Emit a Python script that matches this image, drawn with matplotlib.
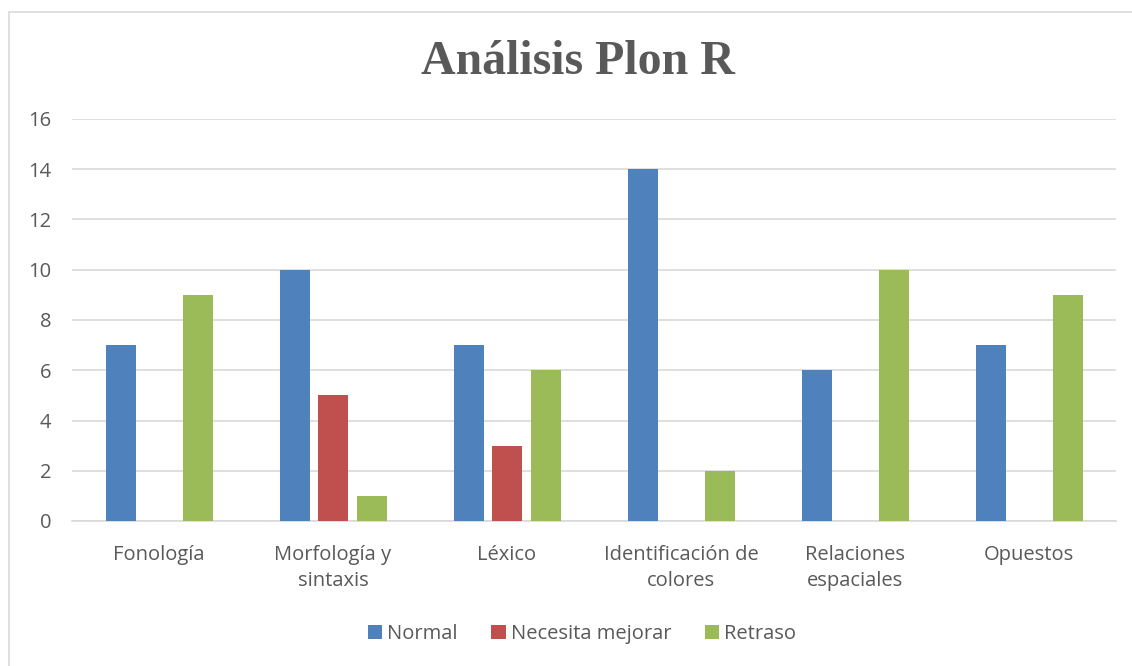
import matplotlib.pyplot as plt
import numpy as np
from matplotlib.patches import Rectangle

# --- DATA ---
categories = ['Fonología', 'Morfología y\nsintaxis', 'Léxico',
              'Identificación de\ncolores', 'Relaciones\nespaciales', 'Opuestos']
normal = [7, 10, 7, 14, 6, 7]
necesita = [0, 5, 3, 0, 0, 0]
retraso = [9, 1, 6, 2, 10, 9]
series_names = ['Normal', 'Necesita mejorar', 'Retraso']
colors = ['#4F81BD', '#C0504D', '#9BBB59']

TEXT = '#595959'
GRID = '#D9D9D9'

plt.rcParams['font.family'] = ['Open Sans', 'DejaVu Sans']

fig = plt.figure(figsize=(11.32, 6.66), dpi=100)
ax = fig.add_axes([72 / 1132, 1 - 521 / 666, 1044 / 1132, 402 / 666])

x = np.arange(len(categories))
width = 30 / 174
step = 38.5 / 174
for i, (vals, name, col) in enumerate(zip([normal, necesita, retraso], series_names, colors)):
    ax.bar(x + (i - 1) * step, vals, width, color=col, label=name, zorder=3)

ax.set_xlim(-0.5, len(categories) - 0.5)
ax.set_ylim(0, 16)
ax.set_yticks(range(0, 17, 2))
ax.set_xticks(x)
ax.set_xticklabels(categories, fontsize=14.5, color=TEXT, linespacing=1.4)
ax.tick_params(axis='y', labelsize=14.5, labelcolor=TEXT, length=0, pad=15)
ax.tick_params(axis='x', length=0, pad=17)
ax.grid(axis='y', color=GRID, linewidth=1.2, zorder=0)
for s in ['top', 'right', 'left']:
    ax.spines[s].set_visible(False)
ax.spines['bottom'].set_color(GRID)
ax.spines['bottom'].set_linewidth(1.2)

fig.text(578 / 1132, 1 - 62 / 666, 'Análisis Plon R', ha='center', va='center',
         fontsize=34.5, fontweight='bold', color=TEXT, family='Liberation Serif')

fig.legend(loc='center', bbox_to_anchor=(582 / 1132, 1 - 634 / 666), ncol=3,
           frameon=False, fontsize=14.5, labelcolor=TEXT, handlelength=0.7,
           handleheight=0.7, handletextpad=0.25, columnspacing=1.7)

# outer chart border
fig.patches.append(Rectangle((8.5 / 1132, -0.05), 1.2, 1 - 11.5 / 666 + 0.05,
                             transform=fig.transFigure, fill=False,
                             edgecolor=GRID, linewidth=1.2))

fig.savefig('out.png', dpi=100, facecolor='white')
